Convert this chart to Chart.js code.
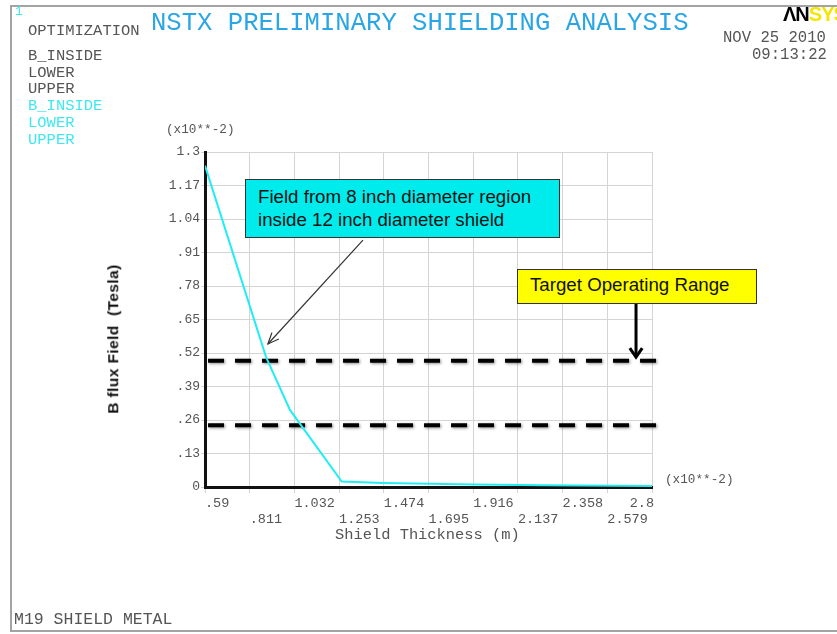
<!DOCTYPE html>
<html>
<head>
<meta charset="utf-8">
<script src="https://cdn.jsdelivr.net/npm/chart.js@4/dist/chart.umd.min.js"></script>
<style>
  html, body { margin: 0; padding: 0; background: #fff; }
  #wrap { position: relative; width: 837px; height: 634px; overflow: hidden; }
  #frame { position: absolute; left: 10px; top: 5px; width: 840px; height: 627px;
           border: 2px solid #a3a3a3; box-sizing: border-box; }
  canvas { position: absolute; left: 0; top: 0; }
  .t { position: absolute; white-space: pre; font-family: "Liberation Mono", "DejaVu Sans Mono", monospace; line-height: 1; }
  .gray { color: #555; }
  .cyan { color: #3fe8f0; }
  .box { position: absolute; box-sizing: border-box; border: 1.5px solid #333;
         font-family: "Liberation Sans", Arial, sans-serif; color: #111; white-space: pre; }
</style>
</head>
<body>
<div id="wrap">
  <div id="frame"></div>
  <canvas id="c" width="837" height="634"></canvas>

  <div class="t cyan" style="left:15px;top:5px;font-size:13px;">1</div>
  <div class="t gray" style="left:28px;top:24px;font-size:15.5px;">OPTIMIZATION</div>
  <div class="t" style="left:151px;top:11px;font-size:25.6px;color:#2aa6e6;">NSTX PRELIMINARY SHIELDING ANALYSIS</div>

  <div class="t" style="left:783px;top:4px;font-size:20px;font-family:'Liberation Sans',Arial,sans-serif;font-weight:bold;letter-spacing:-1px;"><span style="color:#000">ΛN</span><span style="color:#f5e600">SYS</span></div>
  <div class="t gray" style="left:723px;top:31px;font-size:15.6px;">NOV 25 2010</div>
  <div class="t gray" style="left:752px;top:48px;font-size:15.6px;">09:13:22</div>

  <div class="t gray" style="left:28px;top:49px;font-size:15.5px;">B_INSIDE</div>
  <div class="t gray" style="left:28px;top:66px;font-size:15.5px;">LOWER</div>
  <div class="t gray" style="left:28px;top:82px;font-size:15.5px;">UPPER</div>
  <div class="t cyan" style="left:28px;top:99px;font-size:15.5px;">B_INSIDE</div>
  <div class="t cyan" style="left:28px;top:116px;font-size:15.5px;">LOWER</div>
  <div class="t cyan" style="left:28px;top:133px;font-size:15.5px;">UPPER</div>

  <div class="t gray" style="left:166px;top:124px;font-size:12.7px;">(x10**-2)</div>
  <div class="t gray" style="left:665px;top:474px;font-size:12.7px;">(x10**-2)</div>
  <div class="t gray" style="left:335px;top:528px;font-size:15.4px;">Shield Thickness (m)</div>

  <div class="t" style="left:113px;top:339px;font-size:15.5px;font-family:'Liberation Sans',Arial,sans-serif;font-weight:bold;letter-spacing:0.4px;color:#111;transform:translate(-50%,-50%) rotate(-90deg);">B flux Field  (Tesla)</div>

  <div class="t gray" style="left:14px;top:612px;font-size:16.5px;">M19 SHIELD METAL</div>

  <div class="box" style="left:245px;top:179px;width:315px;height:59px;background:#00ecec;font-size:18.7px;line-height:23.4px;padding:4.5px 0 0 12px;">Field from 8 inch diameter region
inside 12 inch diameter shield</div>
  <div class="box" style="left:517px;top:269px;width:240px;height:35px;background:#ffff00;font-size:18.7px;line-height:30px;padding:0 0 0 12px;">Target Operating Range</div>
</div>

<script>
// Shield thickness (m, x10^-2) and field inside the shield (T, x10^-2)
const shieldThickness = [0.59, 0.892, 1.010, 1.266, 1.47, 1.70, 1.92, 2.26, 2.80];
const bInside         = [1.247, 0.504, 0.299, 0.021, 0.016, 0.013, 0.010, 0.007, 0.004];

// Target operating range limits (T, x10^-2)
const lowerLimit = 0.24;
const upperLimit = 0.49;
const limitSpan  = [0.605, 2.83];

// Axis ticks
const xTicks = [0.59, 0.811, 1.032, 1.253, 1.474, 1.695, 1.916, 2.137, 2.358, 2.579, 2.8];
const xTickLabels = ['.59', '.811', '1.032', '1.253', '1.474', '1.695', '1.916', '2.137', '2.358', '2.579', '2.8'];
const yTicks = [0, 0.13, 0.26, 0.39, 0.52, 0.65, 0.78, 0.91, 1.04, 1.17, 1.3];
const yTickLabels = ['0', '.13', '.26', '.39', '.52', '.65', '.78', '.91', '1.04', '1.17', '1.3'];

// Arrow tips of the two callouts, in data units
const fieldArrow  = { from: [1.371, 0.958], to: [0.901, 0.555] };
const targetArrow = { fromPx: 304, to: [2.721, 0.504] };

const monoFont = '"Liberation Mono", "DejaVu Sans Mono", monospace';

const pts = (xs, ys) => xs.map((x, i) => ({ x, y: ys[i] }));

// Two-row x tick labels: left-aligned at the tick, last one ends at it
const xLabelPlugin = {
  id: 'xLabels',
  afterDraw(chart) {
    const { ctx, scales: { x }, chartArea } = chart;
    ctx.save();
    ctx.font = '13.5px ' + monoFont;
    ctx.fillStyle = '#555';
    ctx.textBaseline = 'middle';
    xTicks.forEach((v, i) => {
      const px = x.getPixelForValue(v);
      const last = i === xTicks.length - 1;
      ctx.textAlign = last ? 'right' : 'left';
      const py = chartArea.bottom + 16 + (i % 2) * 16.5;
      ctx.fillText(xTickLabels[i], last ? px + 2 : px, py);
    });
    ctx.restore();
  }
};

// Callout arrows
function arrowHead(ctx, x0, y0, x1, y1, len, spread) {
  const a = Math.atan2(y1 - y0, x1 - x0);
  ctx.beginPath();
  ctx.moveTo(x1 - len * Math.cos(a - spread), y1 - len * Math.sin(a - spread));
  ctx.lineTo(x1, y1);
  ctx.lineTo(x1 - len * Math.cos(a + spread), y1 - len * Math.sin(a + spread));
  ctx.stroke();
}
const arrowPlugin = {
  id: 'arrows',
  afterDraw(chart) {
    const { ctx, scales: { x, y } } = chart;
    ctx.save();
    // thin arrow from the cyan note to the curve
    let x0 = x.getPixelForValue(fieldArrow.from[0]), y0 = y.getPixelForValue(fieldArrow.from[1]);
    let x1 = x.getPixelForValue(fieldArrow.to[0]),   y1 = y.getPixelForValue(fieldArrow.to[1]);
    ctx.strokeStyle = '#333';
    ctx.lineWidth = 1.2;
    ctx.beginPath(); ctx.moveTo(x0, y0); ctx.lineTo(x1, y1); ctx.stroke();
    arrowHead(ctx, x0, y0, x1, y1, 12, 0.4);
    // heavy arrow from the yellow note to the upper limit
    x1 = x.getPixelForValue(targetArrow.to[0]); y1 = y.getPixelForValue(targetArrow.to[1]);
    ctx.strokeStyle = '#000';
    ctx.lineWidth = 3;
    ctx.beginPath(); ctx.moveTo(x1, targetArrow.fromPx); ctx.lineTo(x1, y1 - 1); ctx.stroke();
    arrowHead(ctx, x1, targetArrow.fromPx, x1, y1, 11, 0.6);
    ctx.restore();
  }
};

// Soft shadow under the dashed limit lines
const shadowPlugin = {
  id: 'limitShadow',
  beforeDatasetDraw(chart, args) {
    if (args.index > 0) {
      const ctx = chart.ctx;
      ctx.save();
      ctx.shadowColor = 'rgba(0,0,0,0.45)';
      ctx.shadowBlur = 3;
      ctx.shadowOffsetX = 1;
      ctx.shadowOffsetY = 1;
    }
  },
  afterDatasetDraw(chart, args) {
    if (args.index > 0) chart.ctx.restore();
  }
};

new Chart(document.getElementById('c'), {
  type: 'line',
  data: {
    datasets: [
      {
        label: 'B_INSIDE',
        data: pts(shieldThickness, bInside),
        borderColor: '#22eef2',
        borderWidth: 2,
        pointRadius: 0,
        tension: 0
      },
      {
        label: 'UPPER',
        data: pts(limitSpan, [upperLimit, upperLimit]),
        borderColor: '#000',
        borderWidth: 4,
        borderDash: [16, 11],
        pointRadius: 0,
        clip: false
      },
      {
        label: 'LOWER',
        data: pts(limitSpan, [lowerLimit, lowerLimit]),
        borderColor: '#000',
        borderWidth: 4,
        borderDash: [16, 11],
        pointRadius: 0,
        clip: false
      }
    ]
  },
  options: {
    responsive: false,
    animation: false,
    devicePixelRatio: 1,
    layout: { padding: { left: 140, right: 185, top: 152, bottom: 127 } },
    plugins: { legend: { display: false }, tooltip: { enabled: false }, title: { display: false } },
    scales: {
      x: {
        type: 'linear',
        min: 0.59,
        max: 2.8,
        afterBuildTicks: s => { s.ticks = xTicks.map(v => ({ value: v })); },
        afterFit: s => { s.height = 20; },
        ticks: { display: false },
        grid: { color: '#d4d4d4', lineWidth: 1, tickLength: 6, drawTicks: true },
        border: { color: '#111', width: 3 }
      },
      y: {
        type: 'linear',
        min: 0,
        max: 1.3,
        afterBuildTicks: s => { s.ticks = yTicks.map(v => ({ value: v })); },
        afterFit: s => { s.width = 65; },
        ticks: {
          callback: (v, i) => yTickLabels[i],
          font: { family: monoFont, size: 13 },
          color: '#555',
          padding: 1
        },
        grid: { color: '#d4d4d4', lineWidth: 1, tickLength: 4 },
        border: { color: '#111', width: 3 }
      }
    }
  },
  plugins: [shadowPlugin, xLabelPlugin, arrowPlugin]
});
</script>
</body>
</html>
